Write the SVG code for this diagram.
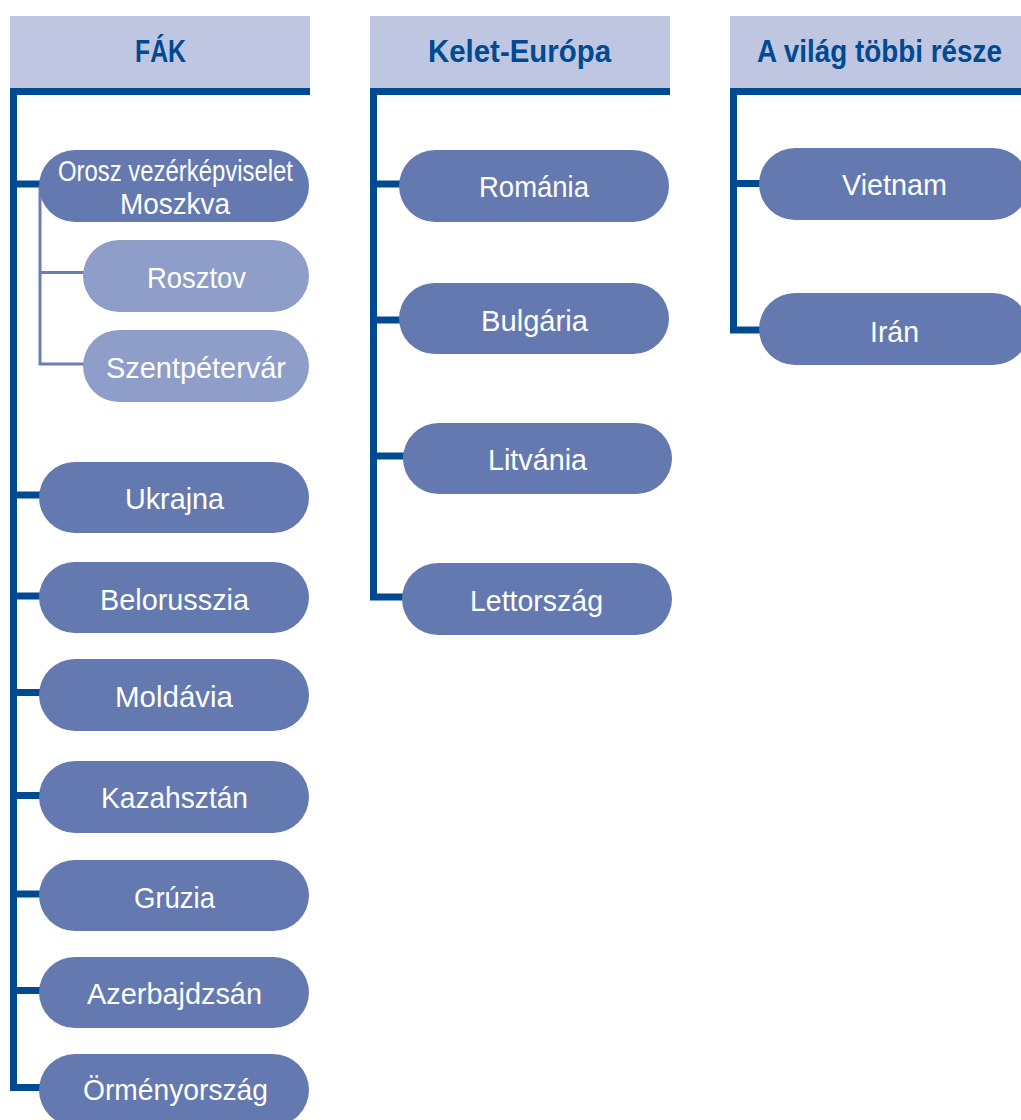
<svg xmlns="http://www.w3.org/2000/svg" width="1021" height="1120" viewBox="0 0 1021 1120">
<style>
.hdr{fill:#bec6e1}
.bar{fill:#004a91}
.pill{fill:#6479b0}
.pill2{fill:#8e9ec9}
.ht{font-family:"Liberation Sans",Arial,sans-serif;font-weight:bold;font-size:31px;fill:#004a91;text-anchor:middle}
.nt{font-family:"Liberation Sans",Arial,sans-serif;font-size:30px;fill:#ffffff;text-anchor:middle}
.main{stroke:#004a91;stroke-width:7;fill:none}
.sub{stroke:#6b7eb8;stroke-width:3;fill:none}
</style>
<rect width="1021" height="1120" fill="#ffffff"/>
<g id="connectors">
  <path class="main" d="M13.5 88 V1087.5 H45 M13.5 184 H45 M13.5 495 H45 M13.5 596 H45 M13.5 692.5 H45 M13.5 795.5 H45 M13.5 894 H45 M13.5 990.5 H45"/>
  <path class="sub" d="M40 186 V364 H90 M40 272.5 H90"/>
  <path class="main" d="M373.5 88 V597 H408 M373.5 184 H405 M373.5 320 H405 M373.5 456 H408"/>
  <path class="main" d="M733.5 88 V330 H765 M733.5 183.5 H765"/>
</g>
<g id="hdr-fak">
  <rect class="hdr" x="10" y="16" width="300" height="72"/>
  <rect class="bar" x="10" y="88" width="300" height="7"/>
  <text class="ht" x="160.5" y="62" textLength="51" lengthAdjust="spacingAndGlyphs">FÁK</text>
</g>
<g id="hdr-kelet">
  <rect class="hdr" x="370" y="16" width="300" height="72"/>
  <rect class="bar" x="370" y="88" width="300" height="7"/>
  <text class="ht" x="519.5" y="62" textLength="183" lengthAdjust="spacingAndGlyphs">Kelet-Európa</text>
</g>
<g id="hdr-vilag">
  <rect class="hdr" x="730" y="16" width="291" height="72"/>
  <rect class="bar" x="730" y="88" width="291" height="7"/>
  <text class="ht" x="879.5" y="62" textLength="245" lengthAdjust="spacingAndGlyphs">A világ többi része</text>
</g>
<g id="n-orosz">
  <rect class="pill" x="39" y="150" width="270" height="72" rx="36"/>
  <text class="nt" x="175.5" y="181" textLength="235" lengthAdjust="spacingAndGlyphs">Orosz vezérképviselet</text>
  <text class="nt" x="175" y="214" textLength="110" lengthAdjust="spacingAndGlyphs">Moszkva</text>
</g>
<g id="n-rosztov">
  <rect class="pill2" x="83" y="240" width="226" height="72" rx="36"/>
  <text class="nt" x="196.5" y="288" textLength="99" lengthAdjust="spacingAndGlyphs">Rosztov</text>
</g>
<g id="n-szentpetervar">
  <rect class="pill2" x="83" y="330" width="226" height="72" rx="36"/>
  <text class="nt" x="196" y="378" textLength="180" lengthAdjust="spacingAndGlyphs">Szentpétervár</text>
</g>
<g id="n-ukrajna">
  <rect class="pill" x="39" y="462" width="270" height="71" rx="35.5"/>
  <text class="nt" x="174.5" y="509" textLength="99" lengthAdjust="spacingAndGlyphs">Ukrajna</text>
</g>
<g id="n-belorusszia">
  <rect class="pill" x="39" y="562" width="270" height="71" rx="35.5"/>
  <text class="nt" x="174.5" y="610" textLength="149" lengthAdjust="spacingAndGlyphs">Belorusszia</text>
</g>
<g id="n-moldavia">
  <rect class="pill" x="39" y="659" width="270" height="72" rx="36"/>
  <text class="nt" x="174" y="707" textLength="118" lengthAdjust="spacingAndGlyphs">Moldávia</text>
</g>
<g id="n-kazahsztan">
  <rect class="pill" x="39" y="761" width="270" height="72" rx="36"/>
  <text class="nt" x="174.5" y="808" textLength="147" lengthAdjust="spacingAndGlyphs">Kazahsztán</text>
</g>
<g id="n-gruzia">
  <rect class="pill" x="39" y="860" width="270" height="71" rx="35.5"/>
  <text class="nt" x="174.5" y="908" textLength="81" lengthAdjust="spacingAndGlyphs">Grúzia</text>
</g>
<g id="n-azerbajdzsan">
  <rect class="pill" x="39" y="957" width="270" height="71" rx="35.5"/>
  <text class="nt" x="174.5" y="1004" textLength="175" lengthAdjust="spacingAndGlyphs">Azerbajdzsán</text>
</g>
<g id="n-ormenyorszag">
  <rect class="pill" x="39" y="1054" width="270" height="72" rx="36"/>
  <text class="nt" x="175.5" y="1100" textLength="185" lengthAdjust="spacingAndGlyphs">Örményország</text>
</g>
<g id="n-romania">
  <rect class="pill" x="399" y="150" width="270" height="72" rx="36"/>
  <text class="nt" x="534" y="197" textLength="110" lengthAdjust="spacingAndGlyphs">Románia</text>
</g>
<g id="n-bulgaria">
  <rect class="pill" x="399" y="283" width="270" height="71" rx="35.5"/>
  <text class="nt" x="534.5" y="331" textLength="107" lengthAdjust="spacingAndGlyphs">Bulgária</text>
</g>
<g id="n-litvania">
  <rect class="pill" x="403" y="423" width="269" height="71" rx="35.5"/>
  <text class="nt" x="537.5" y="470" textLength="99" lengthAdjust="spacingAndGlyphs">Litvánia</text>
</g>
<g id="n-lettorszag">
  <rect class="pill" x="402" y="563" width="270" height="72" rx="36"/>
  <text class="nt" x="536.5" y="611" textLength="133" lengthAdjust="spacingAndGlyphs">Lettország</text>
</g>
<g id="n-vietnam">
  <rect class="pill" x="759" y="148" width="270" height="72" rx="36"/>
  <text class="nt" x="894.5" y="195" textLength="105" lengthAdjust="spacingAndGlyphs">Vietnam</text>
</g>
<g id="n-iran">
  <rect class="pill" x="759" y="293" width="270" height="72" rx="36"/>
  <text class="nt" x="894.5" y="342" textLength="49" lengthAdjust="spacingAndGlyphs">Irán</text>
</g>
</svg>
